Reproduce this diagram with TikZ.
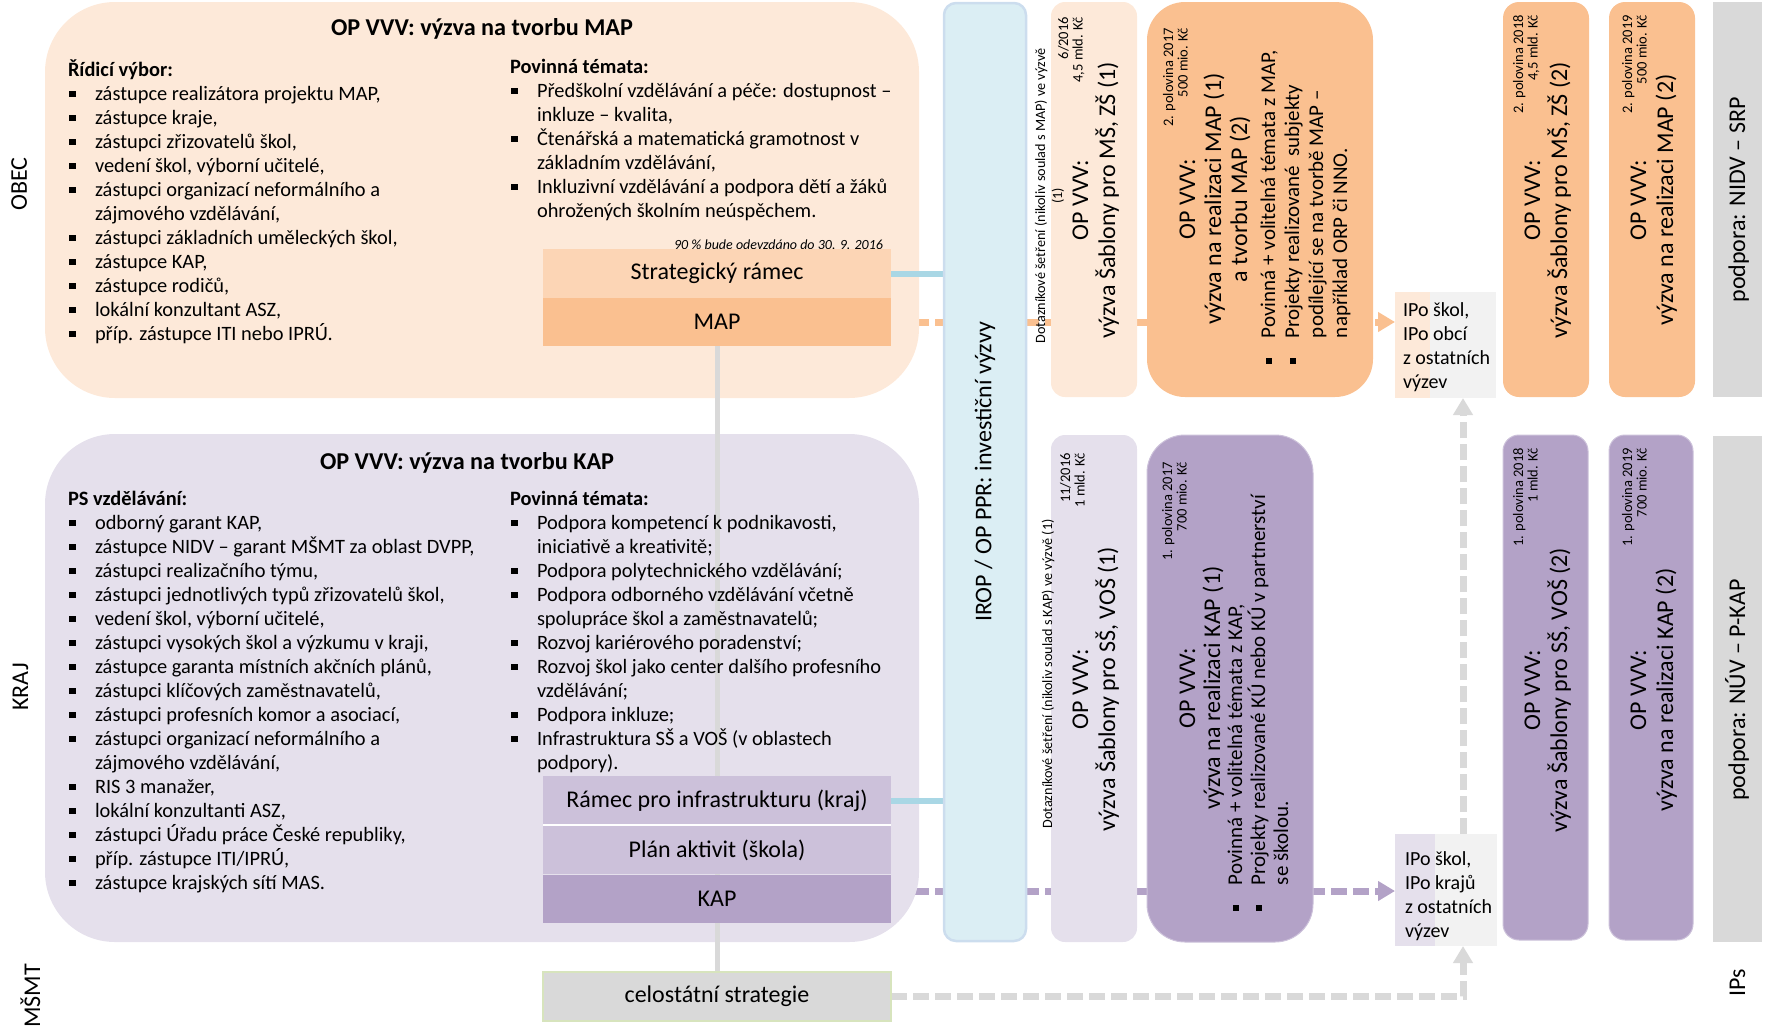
\documentclass[tikz,border=0pt]{standalone}
\usepackage{fontspec}
\setmainfont{Carlito}
\usetikzlibrary{arrows.meta,calc}
\pgfdeclarelayer{dash}
\pgfdeclarelayer{bg}
\pgfdeclarelayer{lines}
\pgfsetlayers{dash,bg,lines,main}
\definecolor{obecbg}{HTML}{FDE9D9}
\definecolor{orlight}{HTML}{FCD5B5}
\definecolor{ormid}{HTML}{FAC090}
\definecolor{krajbg}{HTML}{E5E0EC}
\definecolor{pulight}{HTML}{CCC1DA}
\definecolor{pumid}{HTML}{B3A2C7}
\definecolor{iropbg}{HTML}{DBEEF4}
\definecolor{iropbd}{HTML}{CCDDEE}
\definecolor{graybx}{HTML}{D9D9D9}
\definecolor{ipobg}{HTML}{F2F2F2}
\definecolor{lblue}{HTML}{A9D7E5}
\definecolor{greenbd}{HTML}{D7E4BD}
\newcommand{\fs}[2]{\fontsize{#1}{#2}\selectfont}
\newcommand{\sqbul}{\rule[3pt]{6.5pt}{6.5pt}}
\newcommand{\bitem}[1]{\par\hangindent=27pt\hangafter=1\noindent\makebox[27pt][l]{\hspace{1pt}\sqbul}#1}
\newcommand{\cblk}[3]{\parbox[t]{#1}{\centering\fs{24}{#2}#3}}
\newcommand{\dblk}[1]{\parbox[t]{130pt}{\raggedleft\fs{14.5}{14.5}#1}}
\begin{document}
\begin{tikzpicture}[x=1pt,y=-1pt,
  box/.style={anchor=north west, inner sep=0pt, outer sep=0pt, draw=none},
  rot/.style={rotate=90, inner sep=0pt, outer sep=0pt},
  txt/.style={inner sep=0pt, outer sep=0pt},
  dashln/.style={line width=7pt, dash pattern=on 16pt off 6pt},
  tip/.style={-{Triangle[length=17pt,width=19pt]}},
  blueln/.style={line width=6pt, draw=lblue},
  grayln/.style={line width=5pt, draw=graybx},
  inbox/.style={box, minimum width=348pt, font=\fs{24}{29}},
]
\useasboundingbox (0,0) rectangle (1768,1031);

% ---------- background panels
\begin{pgfonlayer}{bg}
\node[box, fill=obecbg, rounded corners=70pt, minimum width=874pt, minimum height=396pt] (obec) at (45,2) {};
\node[box, fill=krajbg, rounded corners=70pt, minimum width=874pt, minimum height=508pt] (kraj) at (45,434) {};
\end{pgfonlayer}

% ---------- side labels
\node[rot, anchor=base] (lobec) at (27,184) {\fs{24}{29}OBEC};
\node[rot, anchor=base] (lkraj) at (28,687) {\fs{24}{29}KRAJ};
\node[rot, anchor=base] (lmsmt) at (40,996) {\fs{24}{29}MŠMT};

% ---------- OBEC panel
\node[txt, anchor=base west] (t1) at (331,35) {\fs{24.2}{29}\bfseries OP VVV: výzva na tvorbu MAP};
\node[txt, anchor=base west] (obecl) at (68,76) {\parbox[t]{430pt}{\fs{20.4}{24}%
\textbf{Řídicí výbor:}%
\bitem{zástupce realizátora projektu MAP,}%
\bitem{zástupce kraje,}%
\bitem{zástupci zřizovatelů škol,}%
\bitem{vedení škol, výborní učitelé,}%
\bitem{zástupci organizací neformálního a\\zájmového vzdělávání,}%
\bitem{zástupci základních uměleckých škol,}%
\bitem{zástupce KAP,}%
\bitem{zástupce rodičů,}%
\bitem{lokální konzultant ASZ,}%
\bitem{příp. zástupce ITI nebo IPRÚ.}}};
\node[txt, anchor=base west] (obecr) at (510,73) {\parbox[t]{400pt}{\fs{20.4}{24}%
\textbf{Povinná témata:}%
\bitem{Předškolní vzdělávání a péče: dostupnost –\\inkluze – kvalita,}%
\bitem{Čtenářská a matematická gramotnost v\\základním vzdělávání,}%
\bitem{Inkluzivní vzdělávání a podpora dětí a žáků\\ohrožených školním neúspěchem.}}};
\node[txt, anchor=base east] (note) at (883,249) {\fs{14}{16}\itshape 90 \% bude odevzdáno do 30. 9. 2016};
\node[inbox, fill=orlight, minimum height=49pt] (sr) at (543,249) {Strategický rámec};
\node[inbox, fill=ormid, minimum height=48pt] (map) at (543,298) {MAP};

% ---------- KRAJ panel
\node[txt, anchor=base west] (t2) at (320,469) {\fs{24.2}{29}\bfseries OP VVV: výzva na tvorbu KAP};
\node[txt, anchor=base west] (krajl) at (68,505) {\parbox[t]{430pt}{\fs{20.4}{24}%
\textbf{PS vzdělávání:}%
\bitem{odborný garant KAP,}%
\bitem{zástupce NIDV – garant MŠMT za oblast DVPP,}%
\bitem{zástupci realizačního týmu,}%
\bitem{zástupci jednotlivých typů zřizovatelů škol,}%
\bitem{vedení škol, výborní učitelé,}%
\bitem{zástupci vysokých škol a výzkumu v kraji,}%
\bitem{zástupce garanta místních akčních plánů,}%
\bitem{zástupci klíčových zaměstnavatelů,}%
\bitem{zástupci profesních komor a asociací,}%
\bitem{zástupci organizací neformálního a\\zájmového vzdělávání,}%
\bitem{RIS 3 manažer,}%
\bitem{lokální konzultanti ASZ,}%
\bitem{zástupci Úřadu práce České republiky,}%
\bitem{příp. zástupce ITI/IPRÚ,}%
\bitem{zástupce krajských sítí MAS.}}};
\node[txt, anchor=base west] (krajr) at (510,505) {\parbox[t]{400pt}{\fs{20.4}{24}%
\textbf{Povinná témata:}%
\bitem{Podpora kompetencí k podnikavosti,\\iniciativě a kreativitě;}%
\bitem{Podpora polytechnického vzdělávání;}%
\bitem{Podpora odborného vzdělávání včetně\\spolupráce škol a zaměstnavatelů;}%
\bitem{Rozvoj kariérového poradenství;}%
\bitem{Rozvoj škol jako center dalšího profesního\\vzdělávání;}%
\bitem{Podpora inkluze;}%
\bitem{Infrastruktura SŠ a VOŠ (v oblastech\\podpory).}}};
\node[inbox, fill=pulight, minimum height=49pt] (ramec) at (543,776) {Rámec pro infrastrukturu (kraj)};
\node[inbox, fill=pulight, minimum height=48pt] (plan) at (543,826) {Plán aktivit (škola)};
\node[inbox, fill=pumid, minimum height=48pt] (kap) at (543,875) {KAP};
\draw[white, line width=2pt] (ramec.south west) -- (ramec.south east);

% ---------- MSMT
\node[inbox, fill=graybx, draw=greenbd, line width=1.5pt, minimum height=49pt] (celo) at (543,972) {celostátní strategie};

% ---------- IROP
\node[box, fill=iropbg, draw=iropbd, line width=2.5pt, rounded corners=12pt, minimum width=82pt, minimum height=938pt] (irop) at (944,3) {};
\node[rot] (iropt) at (irop.center) {\fs{24}{29}IROP / OP PPR: investiční výzvy};

% ---------- OBEC calls
\node[box, fill=obecbg, rounded corners=14pt, minimum width=86pt, minimum height=395pt] (dzm) at (1051,2) {};
\node[rot, anchor=base] (dzmq) at (1045,196) {\parbox[t]{340pt}{\centering\fs{14.2}{17}Dotazníkové šetření (nikoliv soulad s MAP) ve výzvě\\(1)}};
\node[rot, anchor=base east] (dzmd) at (1068,17) {\dblk{6/2016\\4,5 mld. Kč}};
\node[rot, anchor=base] (dzmt) at (1088,200) {\cblk{320pt}{27}{OP VVV:\\výzva Šablony pro MŠ, ZŠ (1)}};

\node[box, fill=ormid, rounded corners=38pt, minimum width=226pt, minimum height=395pt] (om1) at (1147,2) {};
\node[rot, anchor=base east] (om1d) at (1173,28) {\dblk{2. polovina 2017\\500 mio. Kč}};
\node[rot, anchor=base] (om1t) at (1195,199) {\cblk{320pt}{26}{OP VVV:\\výzva na realizaci MAP (1)\\a tvorbu MAP (2)}};
\node[rot, anchor=base west] (om1b) at (1275,365) {\parbox[t]{340pt}{\fs{21}{24}%
\bitem{Povinná + volitelná témata z MAP,}%
\bitem{Projekty realizované~ subjekty\\podílející se na tvorbě MAP –\\například ORP či NNO.}}};

\node[box, fill=ormid, rounded corners=16pt, minimum width=86pt, minimum height=395pt] (om3) at (1503,2) {};
\node[rot, anchor=base east] (om3d) at (1523,15) {\dblk{2. polovina 2018\\4,5 mld. Kč}};
\node[rot, anchor=base] (om3t) at (1540,200) {\cblk{320pt}{27}{OP VVV:\\výzva Šablony pro MŠ, ZŠ (2)}};

\node[box, fill=ormid, rounded corners=16pt, minimum width=86pt, minimum height=395pt] (om4) at (1609,2) {};
\node[rot, anchor=base east] (om4d) at (1632,15) {\dblk{2. polovina 2019\\500 mio. Kč}};
\node[rot, anchor=base] (om4t) at (1646,200) {\cblk{320pt}{27}{OP VVV:\\výzva na realizaci MAP (2)}};

\node[box, fill=graybx, minimum width=49pt, minimum height=395pt] (srp) at (1713,2) {};
\node[rot, anchor=base] (srpt) at (1745,200) {\fs{24}{29}podpora: NIDV – SRP};

% ---------- KRAJ calls
\node[box, fill=krajbg, rounded corners=14pt, minimum width=86pt, minimum height=507pt] (dzk) at (1051,435) {};
\node[rot, anchor=base] (dzkq) at (1052,674) {\fs{14.2}{17}Dotazníkové šetření (nikoliv soulad s KAP) ve výzvě (1)};
\node[rot, anchor=base east] (dzkd) at (1070,453) {\dblk{11/2016\\1 mld. Kč}};
\node[rot, anchor=base] (dzkt) at (1088,689) {\cblk{340pt}{27}{OP VVV:\\výzva Šablony pro SŠ, VOŠ (1)}};

\node[box, fill=pumid, draw=pulight, line width=1pt, rounded corners=38pt, minimum width=166pt, minimum height=507pt] (pk1) at (1147,435) {};
\node[rot, anchor=base east] (pk1d) at (1172,462) {\dblk{1. polovina 2017\\700 mio. Kč}};
\node[rot, anchor=base] (pk1t) at (1195,688) {\cblk{340pt}{25}{OP VVV:\\výzva na realizaci KAP (1)}};
\node[rot, anchor=base west] (pk1b) at (1242,912) {\parbox[t]{440pt}{\fs{21}{23}%
\bitem{Povinná + volitelná témata z KAP,}%
\bitem{Projekty realizované KÚ nebo KÚ v partnerství\\se školou.}}};

\node[box, fill=pumid, draw=pulight, line width=1pt, rounded corners=16pt, minimum width=85pt, minimum height=505pt] (pk3) at (1503,435) {};
\node[rot, anchor=base east] (pk3d) at (1523,448) {\dblk{1. polovina 2018\\1 mld. Kč}};
\node[rot, anchor=base] (pk3t) at (1540,690) {\cblk{340pt}{27}{OP VVV:\\výzva Šablony pro SŠ, VOŠ (2)}};

\node[box, fill=pumid, draw=pulight, line width=1pt, rounded corners=16pt, minimum width=84pt, minimum height=505pt] (pk4) at (1609,435) {};
\node[rot, anchor=base east] (pk4d) at (1632,448) {\dblk{1. polovina 2019\\700 mio. Kč}};
\node[rot, anchor=base] (pk4t) at (1646,690) {\cblk{340pt}{27}{OP VVV:\\výzva na realizaci KAP (2)}};

\node[box, fill=graybx, minimum width=49pt, minimum height=506pt] (pkp) at (1713,436) {};
\node[rot, anchor=base] (pkpt) at (1745,690) {\fs{24}{29}podpora: NÚV – P-KAP};
\node[rot, anchor=base] (ips) at (1745,983) {\fs{24}{29}IPs};

% ---------- IPo boxes
\node[box, fill=ipobg, minimum width=101pt, minimum height=106pt] (ipoa) at (1395,292) {};
\node[box, fill=obecbg, minimum width=35pt, minimum height=106pt] (ipoal) at (1395,292) {};
\node[txt, anchor=base west] (ipoat) at (1403,316) {\parbox[t]{95pt}{\raggedright\fs{20}{24}IPo škol,\\IPo obcí\\z ostatních\\výzev}};
\node[box, fill=ipobg, minimum width=102pt, minimum height=112pt] (ipob) at (1395,834) {};
\node[box, fill=krajbg, minimum width=40pt, minimum height=112pt] (ipobl) at (1395,834) {};
\node[txt, anchor=base west] (ipobt) at (1405,865) {\parbox[t]{95pt}{\raggedright\fs{20}{24}IPo škol,\\IPo krajů\\z ostatních\\výzev}};
\coordinate (gx) at (1463,0);

% ---------- connectors
\begin{pgfonlayer}{dash}
\draw[dashln, draw=ormid, tip] (map.east) -- (map.east -| ipoa.west);
\draw[dashln, draw=pumid, tip] ($(kap.east)+(0,-8)$) -- ($(kap.east -| ipob.west)+(0,-8)$);
\end{pgfonlayer}
\begin{pgfonlayer}{lines}
\draw[grayln] (map.south) -- (celo.north);
\draw[blueln] (sr.east) -- (sr.east -| irop.west);
\draw[blueln] (ramec.east) -- (ramec.east -| irop.west);
\draw[dashln, draw=graybx, tip] (celo.east) -| (ipob.south -| gx);
\draw[dashln, draw=graybx, tip] (ipob.north -| gx) -- (ipoa.south -| gx);
\end{pgfonlayer}
\end{tikzpicture}
\end{document}
